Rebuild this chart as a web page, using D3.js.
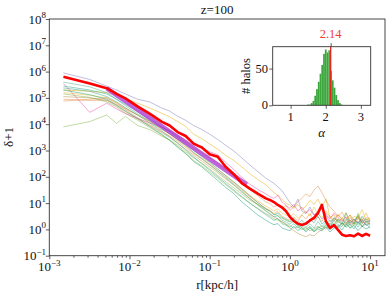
<!DOCTYPE html>
<html><head><meta charset="utf-8">
<script src="https://cdn.jsdelivr.net/npm/d3@7"></script>
<style>
body{margin:0;background:#fff}
</style>
</head><body>
<svg id="c" width="390" height="293"></svg>
<script>
// ---- data (radii in kpc/h; profile values stored as log10(delta+1)) ----
const rGrid = [0.0015, 0.0032, 0.0052, 0.0069, 0.0089, 0.0126, 0.0178, 0.0251, 0.0316, 0.0398,
  0.0501, 0.0631, 0.0794, 0.1, 0.126, 0.158, 0.2, 0.251, 0.316, 0.398,
  0.501, 0.562, 0.631, 0.708, 0.794, 0.891, 1.0, 1.12, 1.26, 1.41,
  1.58, 1.78, 2.0, 2.24, 2.51, 2.82, 3.16, 3.55, 3.98, 4.47,
  5.01, 5.62, 6.31, 7.08, 7.94, 8.91, 10.0];

const redLog10 = [5.80, 5.55, 5.37, 5.15, 4.98, 4.68, 4.40, 4.10, 3.95, 3.70,
  3.55, 3.26, 3.12, 2.86, 2.76, 2.38, 2.10, 1.76, 1.55, 1.36,
  1.18, 1.12, 1.04, 0.93, 0.84, 0.70, 0.48, 0.32, 0.22, 0.17,
  0.22, 0.34, 0.44, 0.62, 0.93, 0.30, 0.06, 0.16, -0.02, -0.20,
  -0.25, -0.22, -0.26, -0.16, -0.25, -0.17, -0.24];

const lavenderLog10 = [5.95, 5.70, 5.45, 5.30, 5.15, 4.95, 4.85, 4.62, 4.50, 4.30,
  4.15, 3.95, 3.80, 3.62, 3.42, 3.20, 2.98, 2.72, 2.45, 2.20,
  1.95, 1.85, 1.75, 1.62, 1.48, 1.25, 1.02, 0.85, 1.15, 0.70,
  0.60, 0.85, 0.55, 0.62, 0.40, 0.52, 0.30, 0.42, 0.32, 0.38,
  0.22, 0.36, 0.25, 0.45, 0.22, 0.32, 0.28];
const yellowLog10 = [5.30, 5.25, 5.20, 5.10, 4.98, 4.80, 4.62, 4.42, 4.28, 4.10,
  3.92, 3.62, 3.45, 3.25, 3.05, 2.82, 2.62, 2.38, 2.12, 1.90,
  1.70, 1.55, 1.40, 1.30, 1.15, 1.00, 0.92, 0.80, 0.95, 0.75,
  0.88, 1.10, 0.95, 1.15, 0.85, 1.15, 0.45, 0.55, 0.25, 0.45,
  0.30, 0.55, 0.20, 0.40, 0.35, 0.62, 0.30];
const pinkLog10 = [5.55, 4.45, 4.80, 4.58, 4.40, 4.22, 4.05, 3.88, 3.75, 3.58,
  3.40, 3.22, 3.08, 2.95, 2.84, 2.55, 2.28, 1.98, 1.72, 1.52,
  1.35, 1.25, 1.18, 1.30, 1.05, 0.92, 0.80, 0.95, 0.70, 0.85,
  0.62, 0.75, 0.55, 0.68, 0.90, 0.55, 0.40, 0.62, 0.45, 0.30,
  0.48, 0.20, 0.38, 0.25, 0.40, 0.15, 0.30];
const green1Log10 = [3.90, 4.10, 4.35, 4.03, 4.30, 3.95, 3.80, 3.55, 3.40, 3.20,
  2.95, 2.72, 2.52, 2.30, 2.05, 1.82, 1.58, 1.35, 1.12, 0.95,
  0.78, 0.70, 0.58, 0.52, 0.42, 0.35, 0.28, 0.30, 0.15, 0.05,
  -0.05, 0.10, -0.10, 0.05, 0.15, 0.00, 0.25, 0.10, 0.40, 0.15,
  0.30, 0.05, 0.25, 0.55, 0.10, 0.30, 0.15];
const green2Log10 = [5.15, 5.02, 4.85, 4.65, 4.42, 4.15, 3.88, 3.60, 3.38, 3.15,
  2.90, 2.62, 2.42, 2.18, 1.95, 1.70, 1.45, 1.22, 1.00, 0.80,
  0.60, 0.52, 0.40, 0.35, 0.28, 0.20, 0.15, 0.05, 0.10, -0.02,
  0.08, -0.05, 0.02, 0.12, 0.00, 0.18, 0.35, 0.20, 0.40, 0.25,
  0.10, 0.30, 0.15, 0.62, 0.25, 0.40, 0.20];
const teal1Log10 = [5.45, 5.30, 5.15, 4.95, 4.75, 4.48, 4.20, 3.90, 3.72, 3.50,
  3.28, 3.00, 2.78, 2.55, 2.30, 2.05, 1.80, 1.55, 1.28, 1.02,
  0.78, 0.70, 0.55, 0.62, 0.45, 0.38, 0.30, 0.42, 0.22, 0.35,
  0.18, 0.40, 0.25, 0.50, 0.20, 0.35, 0.12, 0.45, 0.30, 0.20,
  0.62, 0.25, 0.40, 0.18, 0.50, 0.28, 0.35];
const teal2Log10 = [5.38, 5.25, 5.05, 4.85, 4.62, 4.35, 4.05, 3.75, 3.52, 3.28,
  3.02, 2.75, 2.50, 2.25, 2.00, 1.75, 1.50, 1.25, 1.00, 0.78,
  0.56, 0.46, 0.34, 0.42, 0.22, 0.16, 0.08, 0.22, 0.05, 0.15,
  0.00, 0.12, -0.05, 0.10, 0.02, 0.18, -0.02, 0.15, 0.05, 0.25,
  0.08, 0.20, 0.02, 0.30, 0.10, 0.22, 0.05];
const teal3Log10 = [5.30, 5.12, 4.95, 4.72, 4.50, 4.22, 3.92, 3.62, 3.40, 3.12,
  2.88, 2.58, 2.38, 2.12, 1.86, 1.60, 1.36, 1.05, 0.80, 0.55,
  0.35, 0.26, 0.18, 0.22, 0.06, 0.00, -0.05, 0.12, -0.05, 0.08,
  -0.10, 0.05, -0.08, 0.02, -0.05, 0.10, -0.10, 0.05, 0.15, -0.02,
  0.20, 0.05, 0.15, -0.05, 0.12, 0.02, 0.10];
const teal4Log10 = [5.60, 5.42, 5.20, 4.95, 4.70, 4.40, 4.12, 3.82, 3.65, 3.42,
  3.20, 2.92, 2.70, 2.46, 2.22, 1.96, 1.70, 1.45, 1.18, 0.92,
  0.70, 0.58, 0.48, 0.52, 0.35, 0.28, 0.20, 0.32, 0.12, 0.25,
  0.08, 0.22, 0.05, 0.30, 0.10, 0.28, 0.05, 0.35, 0.18, 0.10,
  0.40, 0.15, 0.28, 0.08, 0.35, 0.15, 0.22];
const orange1Log10 = [4.95, 4.90, 4.92, 4.75, 4.58, 4.35, 4.12, 3.90, 3.75, 3.55,
  3.35, 3.10, 2.92, 2.72, 2.50, 2.28, 2.02, 1.78, 1.52, 1.28,
  1.05, 0.98, 0.85, 0.95, 0.78, 0.90, 0.72, 0.85, 1.05, 1.20,
  1.35, 1.25, 1.50, 1.65, 1.40, 1.10, 0.85, 0.70, 0.50, 0.65,
  0.40, 0.55, 0.35, 0.50, 0.30, 0.45, 0.38];
const orange2Log10 = [4.88, 4.95, 5.00, 4.80, 4.55, 4.25, 3.98, 3.72, 3.55, 3.35,
  3.12, 2.88, 2.68, 2.45, 2.22, 2.00, 1.75, 1.50, 1.25, 1.02,
  0.80, 0.72, 0.60, 0.68, 0.50, 0.42, 0.35, 0.48, 0.30, 0.55,
  0.40, 0.60, 0.35, 0.48, 0.30, 0.62, 0.45, 0.30, 0.55, 0.38,
  0.20, 0.45, 0.30, 0.50, 0.25, 0.40, 0.32];
const brownLog10 = [5.05, 5.00, 4.90, 4.70, 4.48, 4.20, 3.95, 3.68, 3.50, 3.28,
  3.05, 2.82, 2.60, 2.38, 2.15, 1.92, 1.68, 1.42, 1.18, 0.95,
  0.72, 0.60, 0.48, 0.40, 0.30, 0.20, 0.05, -0.05, -0.15, -0.22,
  -0.28, -0.20, -0.25, -0.10, -0.02, 0.10, 0.05, 0.20, 0.10, 0.25,
  0.15, 0.35, 0.20, 0.30, 0.12, 0.28, 0.20];
const yellow2Log10 = [5.20, 5.10, 5.00, 4.82, 4.62, 4.35, 4.08, 3.80, 3.62, 3.40,
  3.18, 2.92, 2.72, 2.50, 2.28, 2.05, 1.80, 1.55, 1.30, 1.08,
  0.88, 0.80, 0.70, 0.78, 0.62, 0.55, 0.48, 0.60, 0.42, 0.55,
  0.70, 0.50, 0.85, 0.60, 0.45, 0.70, 0.50, 0.35, 0.58, 0.40,
  0.65, 0.30, 0.50, 0.42, 0.75, 0.35, 0.45];

// power-law fit segment (slope -2.14), endpoints
const fitR = [0.0052, 0.29];
const fitDelta = [2.3e5, 50];

// inset histogram of alpha
const binLeft = [1.475, 1.525, 1.575, 1.625, 1.675, 1.725, 1.775, 1.825, 1.875, 1.925,
  1.975, 2.025, 2.075, 2.125, 2.175, 2.225, 2.275, 2.325, 2.375, 2.425];
const binCount = [1, 1, 3, 6, 13, 22, 32, 43, 55, 70,
  76, 72, 75, 47, 34, 24, 14, 7, 3, 1];
const binWidth = 0.05;
const alphaMean = 2.14;

const xMajor = [1e-3, 1e-2, 1e-1, 1e0, 1e1];
const xMajorExp = ["−3", "−2", "−1", "0", "1"];
const yMajor = [1e-1, 1e0, 1e1, 1e2, 1e3, 1e4, 1e5, 1e6, 1e7, 1e8];
const yMajorExp = ["−1", "0", "1", "2", "3", "4", "5", "6", "7", "8"];
const insetXTicks = [1, 2, 3];
const insetYTicks = [0, 50];

// ---- drawing ----
const FONT = "'Liberation Serif', 'DejaVu Serif', serif";
const svg = d3.select("#c");
const L = 49.3, R = 385, T = 19, B = 255.7;
const x = d3.scaleLog().domain([1e-3, 15.35]).range([L, R]);
const y = d3.scaleLog().domain([0.1, 1e8]).range([B, T]);

const thin = [
  [lavenderLog10, "#7570b3", 0.5],
  [yellowLog10, "#e6ab02", 0.55],
  [yellow2Log10, "#e6ab02", 0.45],
  [orange1Log10, "#d95f02", 0.4],
  [orange2Log10, "#d95f02", 0.4],
  [brownLog10, "#a6761d", 0.45],
  [green1Log10, "#66a61e", 0.45],
  [green2Log10, "#66a61e", 0.45],
  [pinkLog10, "#e7298a", 0.45],
  [teal1Log10, "#1b9e77", 0.5],
  [teal2Log10, "#1b9e77", 0.5],
  [teal3Log10, "#1b9e77", 0.55],
  [teal4Log10, "#1b9e77", 0.45]
];
const line = d3.line().x((d, i) => x(rGrid[i])).y(d => y(Math.pow(10, d)));
const g = svg.append("g");
thin.forEach(([arr, col, op]) => {
  g.append("path").attr("d", line(arr)).attr("fill", "none")
    .attr("stroke", col).attr("stroke-opacity", op).attr("stroke-width", 0.9);
});
// fit
g.append("path").attr("d", d3.line().x((d, i) => x(fitR[i])).y(d => y(d))(fitDelta))
  .attr("fill", "none").attr("stroke", "#a832d0").attr("stroke-opacity", 0.75)
  .attr("stroke-width", 4.5);
// mean profile
g.append("path").attr("d", line(redLog10)).attr("fill", "none")
  .attr("stroke", "#ff0000").attr("stroke-width", 2.6).attr("stroke-linejoin", "round");

// axes
const axCol = "#333";
const xMinor = [];
for (let e = -3; e <= 1; e++) for (let m = 2; m <= 9; m++) { const v = m * Math.pow(10, e); if (v < 15.35) xMinor.push(v); }
const gx = svg.append("g").attr("transform", `translate(0,${B})`)
  .call(d3.axisBottom(x).tickValues(xMajor).tickSize(3.5).tickFormat(""));
const gxm = svg.append("g").attr("transform", `translate(0,${B})`)
  .call(d3.axisBottom(x).tickValues(xMinor).tickSize(2).tickFormat(""));
const gy = svg.append("g").attr("transform", `translate(${L},0)`)
  .call(d3.axisLeft(y).tickValues(yMajor).tickSize(3.5).tickFormat(""));
[gx, gxm, gy].forEach(a => { a.select(".domain").remove(); a.selectAll("line").attr("stroke", axCol).attr("stroke-width", 0.8); });
svg.append("rect").attr("x", L).attr("y", T).attr("width", R - L).attr("height", B - T)
  .attr("fill", "none").attr("stroke", axCol).attr("stroke-width", 0.9);

function txt(parent) { return parent.append("text").style("font-family", FONT).attr("fill", "#111"); }
function powLabel(sel, ex) {
  sel.append("tspan").text("10");
  sel.append("tspan").attr("dy", -5.5).attr("font-size", 9).text(ex);
}
xMajor.forEach((v, i) => {
  const t = txt(svg).attr("x", x(v)).attr("y", 271).attr("text-anchor", "middle").attr("font-size", 13);
  powLabel(t, xMajorExp[i]);
});
yMajor.forEach((v, i) => {
  const t = txt(svg).attr("x", 46).attr("y", y(v) + 4.5).attr("text-anchor", "end").attr("font-size", 13);
  powLabel(t, yMajorExp[i]);
});
txt(svg).attr("x", (L + R) / 2).attr("y", 289).attr("text-anchor", "middle")
  .attr("font-size", 13).text("r[kpc/h]");
txt(svg).attr("transform", "translate(13,137) rotate(-90)").attr("text-anchor", "middle")
  .attr("font-size", 13).text("δ+1");
txt(svg).attr("x", (L + R) / 2).attr("y", 14).attr("text-anchor", "middle")
  .attr("font-size", 13).text("z=100");

// ---- inset ----
const iL = 272.7, iR = 370.7, iT = 46.7, iB = 105.3;
const ix = d3.scaleLinear().domain([0.49, 3.28]).range([iL, iR]);
const iy = d3.scaleLinear().domain([0, 76 * 1.05]).range([iB, iT]);
const ig = svg.append("g");
ig.append("rect").attr("x", iL).attr("y", iT).attr("width", iR - iL).attr("height", iB - iT).attr("fill", "#fff");
ig.selectAll("rect.bar").data(binCount).join("rect").attr("class", "bar")
  .attr("x", (d, i) => ix(binLeft[i])).attr("width", (d, i) => ix(binLeft[i] + binWidth) - ix(binLeft[i]))
  .attr("y", d => iy(d)).attr("height", d => iy(0) - iy(d))
  .attr("fill", "#2ca02c").attr("fill-opacity", 0.92);
ig.append("line").attr("x1", ix(alphaMean)).attr("x2", ix(alphaMean)).attr("y1", iB).attr("y2", iT)
  .attr("stroke", "#e8261c").attr("stroke-width", 1.3);
const igx = ig.append("g").attr("transform", `translate(0,${iB})`)
  .call(d3.axisBottom(ix).tickValues(insetXTicks).tickSize(3.5).tickFormat(""));
const igy = ig.append("g").attr("transform", `translate(${iL},0)`)
  .call(d3.axisLeft(iy).tickValues(insetYTicks).tickSize(3.5).tickFormat(""));
const igt = ig.append("g").attr("transform", `translate(0,${iT})`)
  .call(d3.axisTop(ix).tickValues([alphaMean]).tickSize(3.5).tickFormat(""));
[igx, igy, igt].forEach(a => { a.select(".domain").remove(); a.selectAll("line").attr("stroke", axCol).attr("stroke-width", 0.8); });
ig.append("rect").attr("x", iL).attr("y", iT).attr("width", iR - iL).attr("height", iB - iT)
  .attr("fill", "none").attr("stroke", axCol).attr("stroke-width", 0.9);
insetXTicks.forEach(v => txt(ig).attr("x", ix(v)).attr("y", 121).attr("text-anchor", "middle")
  .attr("font-size", 12.5).text(v));
insetYTicks.forEach(v => txt(ig).attr("x", 268).attr("y", iy(v) + 4).attr("text-anchor", "end")
  .attr("font-size", 12.5).text(v));
txt(ig).attr("x", ix(alphaMean)).attr("y", 38).attr("text-anchor", "middle")
  .attr("font-size", 12.5).attr("fill", "#f03a3a").text(alphaMean.toFixed(2));
txt(ig).attr("x", (iL + iR) / 2).attr("y", 137).attr("text-anchor", "middle")
  .attr("font-size", 13).attr("font-style", "italic").text("α");
txt(ig).attr("transform", `translate(250,${(iT + iB) / 2}) rotate(-90)`).attr("text-anchor", "middle")
  .attr("font-size", 12.5).text("# halos");
</script>
</body></html>
